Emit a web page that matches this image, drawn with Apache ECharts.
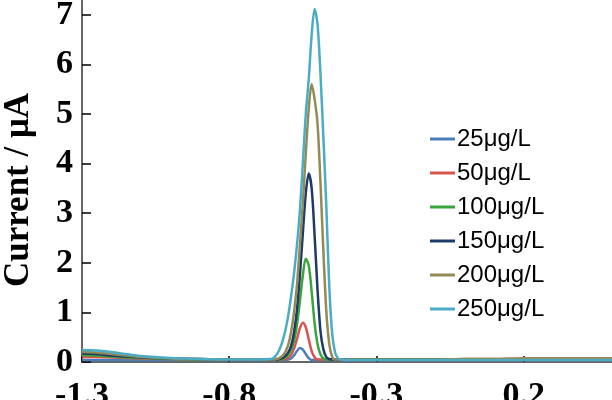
<!DOCTYPE html>
<html><head><meta charset="utf-8">
<script src="https://cdn.jsdelivr.net/npm/echarts@6/dist/echarts.min.js"></script>
<style>html,body{margin:0;padding:0;background:#fff}#c{width:612px;height:400px}</style>
</head><body><div id="c"></div>
<script>
// Potential (V)
var xs = [-1.3,-1.25,-1.2,-1.15,-1.1,-1.0,-0.9,-0.8,-0.7,
  -0.66,-0.65,-0.64,-0.63,-0.62,-0.61,-0.60,-0.59,-0.58,-0.57,-0.56,-0.55,-0.54,-0.53,-0.52,-0.51,-0.50,-0.49,-0.48,-0.47,-0.46,-0.45,-0.44,-0.43,-0.42,
  -0.4,-0.3,-0.2,-0.1,0,0.1,0.2,0.3,0.4,0.5];
var seriesNames = ['25μg/L','50μg/L','100μg/L','150μg/L','200μg/L','250μg/L'];
var c25 = [0.04,0.04,0.04,0.04,0.04,0.04,0.04,0.04,0.04,
  0.04,0.04,0.04,0.04,0.04,0.04,0.05,0.07,0.13,0.22,0.28,0.25,0.16,0.08,0.04,0.04,0.04,0.04,0.04,0.04,0.04,0.04,0.04,0.04,0.04,
  0.04,0.04,0.04,0.04,0.04,0.04,0.04,0.04,0.04,0.04];
var c50 = [0.10,0.10,0.09,0.08,0.07,0.06,0.05,0.05,0.05,
  0.05,0.05,0.05,0.05,0.05,0.06,0.08,0.14,0.27,0.46,0.68,0.79,0.70,0.46,0.22,0.09,0.05,0.05,0.05,0.05,0.05,0.05,0.05,0.05,0.05,
  0.05,0.05,0.05,0.05,0.06,0.06,0.07,0.07,0.07,0.07];
var c100 = [0.14,0.13,0.11,0.09,0.08,0.06,0.05,0.05,0.05,
  0.05,0.05,0.05,0.05,0.06,0.09,0.14,0.24,0.42,0.75,1.22,1.75,2.08,1.95,1.42,0.78,0.36,0.15,0.07,0.05,0.05,0.05,0.05,0.05,0.05,
  0.05,0.05,0.05,0.05,0.05,0.05,0.05,0.05,0.05,0.05];
var c150 = [0.17,0.16,0.13,0.11,0.09,0.07,0.06,0.05,0.05,
  0.05,0.05,0.05,0.06,0.08,0.12,0.19,0.32,0.60,1.05,1.75,2.60,3.40,3.80,3.50,2.55,1.45,0.62,0.25,0.10,0.06,0.05,0.05,0.05,0.05,
  0.05,0.05,0.05,0.05,0.05,0.05,0.05,0.05,0.05,0.05];
var c200 = [0.20,0.19,0.16,0.13,0.10,0.07,0.06,0.05,0.05,
  0.05,0.05,0.06,0.08,0.12,0.20,0.34,0.60,1.00,1.55,2.35,3.20,4.20,5.10,5.60,5.30,4.80,3.60,2.20,1.00,0.35,0.10,0.05,0.05,0.05,
  0.05,0.05,0.05,0.05,0.06,0.06,0.07,0.07,0.07,0.07];
var c250 = [0.24,0.23,0.20,0.16,0.12,0.08,0.06,0.05,0.05,
  0.06,0.08,0.14,0.24,0.40,0.62,0.92,1.32,1.78,2.35,3.05,4.00,5.00,5.70,6.60,7.12,6.80,5.80,4.50,3.10,1.50,0.55,0.18,0.07,0.05,
  0.04,0.04,0.04,0.04,0.04,0.04,0.04,0.04,0.04,0.04];
var allY = [c25,c50,c100,c150,c200,c250];
var colors = ['#4a7ebb','#d9534f','#3aa53a','#1f3a68','#948a54','#4bacc6'];

function pairs(ys){ return xs.map(function(x,i){ return [x, ys[i]]; }); }

var chart = echarts.init(document.getElementById('c'), null, {renderer:'canvas'});
var serif = '"Liberation Serif","Times New Roman",serif';
chart.setOption({
  animation:false,
  backgroundColor:'#fff',
  grid:{left:82,right:0,top:0,bottom:38,containLabel:false,outerBoundsMode:'none'},
  legend:{
    orient:'vertical', left:430, top:127, padding:0, itemWidth:25, itemHeight:3, itemGap:10,
    icon:'rect',
    textStyle:{fontFamily:'"Liberation Sans","Noto Sans",sans-serif', fontSize:24, color:'#000', lineHeight:24, padding:[0,0,0,-3]},
    data:seriesNames
  },
  xAxis:{
    type:'value', min:-1.3, max:0.5, interval:0.5,
    axisLine:{show:true,onZero:false,lineStyle:{color:'#666',width:2}},
    axisTick:{show:true,inside:true,length:6,lineStyle:{color:'#000',width:1.5}},
    splitLine:{show:false},
    axisLabel:{showMaxLabel:false,margin:17,fontFamily:serif,fontWeight:'bold',fontSize:34,color:'#000',
      formatter:function(v){return v.toFixed(1);}}
  },
  yAxis:{
    type:'value', min:0, max:7.3, interval:1,
    name:'Current / μA', nameLocation:'middle', nameGap:46, nameRotate:90,
    nameTextStyle:{fontFamily:serif,fontWeight:'bold',fontSize:35,color:'#000',padding:[0,18,0,0]},
    axisLine:{show:true,onZero:false,lineStyle:{color:'#666',width:2}},
    axisTick:{show:true,inside:true,length:9,lineStyle:{color:'#000',width:1.5}},
    splitLine:{show:false},
    axisLabel:{showMaxLabel:false,margin:9,fontFamily:serif,fontWeight:'bold',fontSize:34,color:'#000'}
  },
  series: allY.map(function(ys,i){
    return {name:seriesNames[i], type:'line', data:pairs(ys), showSymbol:false, smooth:0.3,
      lineStyle:{color:colors[i], width:2.5}, itemStyle:{color:colors[i]}, z:2+i};
  })
});
</script></body></html>
